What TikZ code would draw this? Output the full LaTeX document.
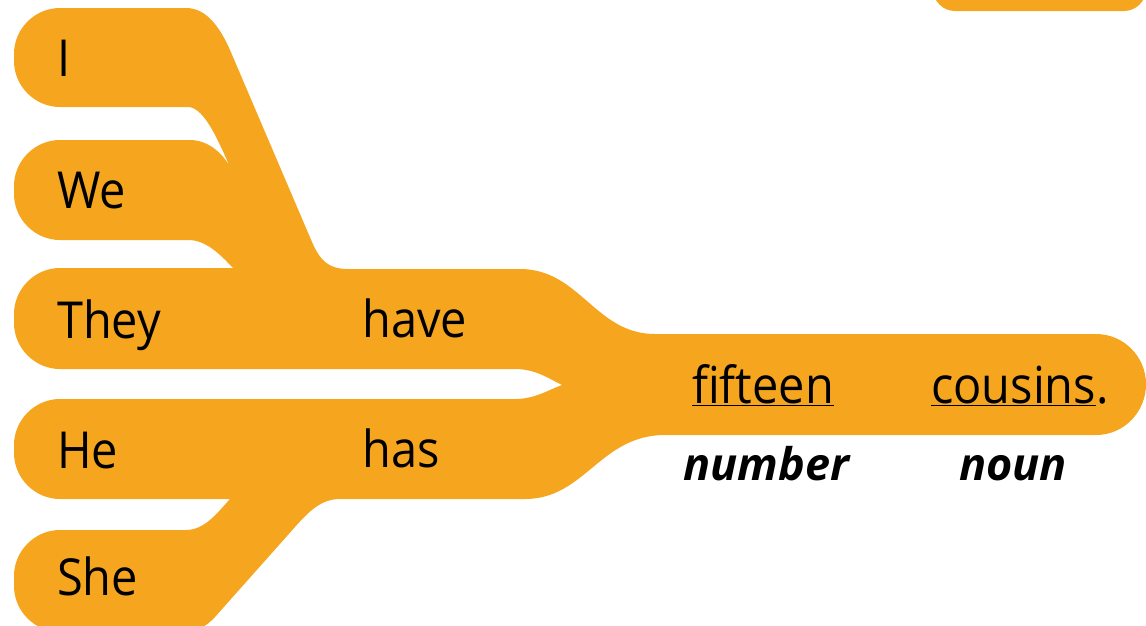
\documentclass[tikz,border=0pt]{standalone}
\usepackage{fontspec}
\setmainfont[FakeStretch=0.92]{Open Sans}
\newfontfamily\tagfont{Open Sans}
\usepackage{tikz}
\usepackage{xcolor}
\usetikzlibrary{positioning}
\definecolor{branchorange}{HTML}{F6A61E}

\begin{document}
\begin{tikzpicture}[x=1pt, y=-1pt,
    branch/.style={fill=branchorange},
    word/.style={anchor=base west, inner sep=0pt, font=\fontsize{51}{60}\selectfont},
    wordtag/.style={anchor=base west, inner sep=0pt, font=\tagfont\fontsize{45}{54}\selectfont\bfseries\itshape}]
    \useasboundingbox (0,0) rectangle (1146,625);
    \clip (0,0) rectangle (1146,625);
    % the tree of branches
    \fill[branch]
      (14,54) .. controls (14,28.7) and (34.7,8) .. (60,8)
      -- (186,8) .. controls (208,8) and (222,30) .. (233,57)
      -- (312,242) .. controls (320,260) and (328,269) .. (348,269)
      -- (520,269) .. controls (580,269) and (595,334) .. (655,334)
      -- (1096,334) .. controls (1124,334) and (1146,357) .. (1146,384)
      .. controls (1146,412) and (1124,435) .. (1096,435)
      -- (665,435) .. controls (600,435) and (585,499) .. (525,499)
      -- (340,499) .. controls (322,499) and (310,510) .. (295,527)
      -- (215,617) .. controls (205,628) and (195,632) .. (180,632)
      -- (60,632) .. controls (34.7,632) and (14,611) .. (14,586)
      -- (14,576) .. controls (14,551) and (34.7,530) .. (60,530)
      -- (186,530) .. controls (205,530) and (218,512) .. (230,499)
      -- (60,499) .. controls (34.7,499) and (14,478) .. (14,453)
      -- (14,445) .. controls (14,420) and (34.7,399) .. (60,399)
      -- (515,399) .. controls (535,399) and (548,390) .. (562,385)
      .. controls (548,378) and (535,369) .. (515,369)
      -- (60,369) .. controls (34.7,369) and (14,348) .. (14,323)
      -- (14,314) .. controls (14,289) and (34.7,268) .. (60,268)
      -- (233,268) .. controls (218,252) and (205,240) .. (188,240)
      -- (60,240) .. controls (34.7,240) and (14,219) .. (14,194)
      -- (14,186) .. controls (14,161) and (34.7,140) .. (60,140)
      -- (190,140) .. controls (207,140) and (222,152) .. (230,167)
      .. controls (220,145) and (205,107) .. (188,107)
      -- (60,107) .. controls (34.7,107) and (14,86) .. (14,61)
      -- cycle;
    \fill[branch, rounded corners=22] (933,-60) rectangle (1146,11);
    % words
    \foreach \w/\y in {I/76, We/208, They/338, He/468, She/595} {
        \node[word] (\w) at (57,\y) {\w};
    }
    \node[word] (have) at (362,337) {have};
    \node[word] (has) at (362,467) {has};
    \node[word] (fifteen) at (692,403) {\underline{fifteen}};
    \node[word] (cousins) at (931,403) {\underline{cousins}.};
    \node[wordtag] (number) at (683,480) {number};
    \node[wordtag] (noun) at (959,480) {noun};
  \end{tikzpicture}
\end{document}
